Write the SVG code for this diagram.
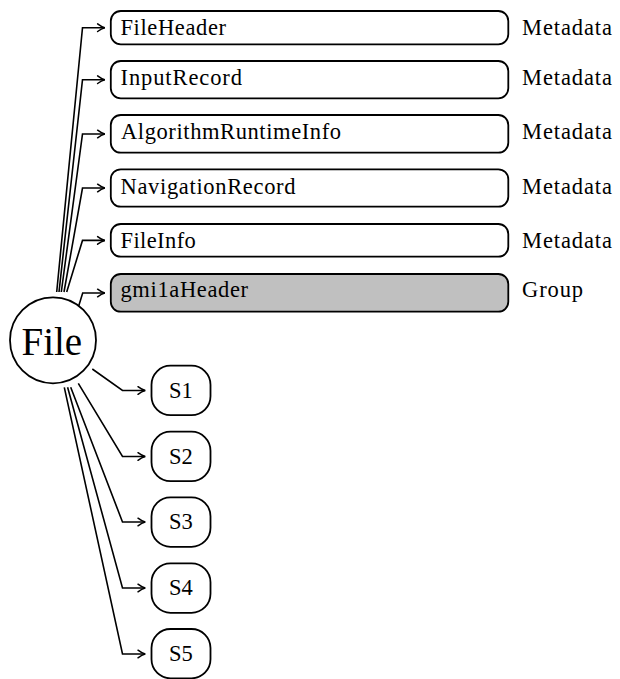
<svg xmlns="http://www.w3.org/2000/svg" width="620" height="679" viewBox="0 0 620 679">
  <defs>
    <style>
      .lbl { font-family: 'Liberation Serif', 'Times New Roman', serif; font-size: 22.5px; fill: #000; }
      .big { font-family: 'Liberation Serif', 'Times New Roman', serif; font-size: 39px; fill: #000; }
      .box { fill: #fff; stroke: #000; stroke-width: 1.8; }
      .grp { fill: #c0c0c0; stroke: #000; stroke-width: 1.8; }
      .edge { fill: none; stroke: #000; stroke-width: 1.6; marker-end: url(#tip); }
    </style>
    <marker id="tip" markerUnits="userSpaceOnUse" markerWidth="12" markerHeight="12" viewBox="-9 -6 11 12" refX="0" refY="0" orient="auto">
      <path d="M -7.2,-3.8 C -4.6,-1.8 -1.8,-0.45 0,0 C -1.8,0.45 -4.6,1.8 -7.2,3.8" fill="none" stroke="#000" stroke-width="1.5" stroke-linecap="round"/>
    </marker>
  </defs>

  <rect width="620" height="679" fill="#fff"/>

  <!-- connectors: diagonal run out of the root, then a short horizontal lead-in -->
  <g id="connectors">
    <path class="edge" d="M 56.7,292 L 82.5,27.7 L 104.8,27.7"/>
    <path class="edge" d="M 59,292 L 82.5,79.7 L 104.8,79.7"/>
    <path class="edge" d="M 61.3,292 L 82.5,134 L 104.8,134"/>
    <path class="edge" d="M 64,292 L 82.5,188 L 104.8,188"/>
    <path class="edge" d="M 66.7,292 L 82.5,240.4 L 104.8,240.4"/>
    <path class="edge" d="M 78.3,307.3 L 82.7,293 L 104.8,293"/>
    <path class="edge" d="M 92.3,369 L 122.5,390.5 L 145.2,390.5"/>
    <path class="edge" d="M 78.3,383.3 L 122.5,456.5 L 145.2,456.5"/>
    <path class="edge" d="M 70.7,387.3 L 122.5,522 L 145.2,522"/>
    <path class="edge" d="M 67.6,387.3 L 122.5,588 L 145.2,588"/>
    <path class="edge" d="M 64.3,387.3 L 122.5,654 L 145.2,654"/>
  </g>

  <!-- root -->
  <g id="file">
    <circle cx="53" cy="340.3" r="43" fill="#fff" stroke="#000" stroke-width="1.8"/>
    <text class="big" x="21.5" y="355">File</text>
  </g>

  <!-- record nodes -->
  <g id="fileheader">
    <rect class="box" x="110.8" y="11" width="397.5" height="33.3" rx="10"/>
    <text class="lbl" x="120.5" y="35" textLength="105.5">FileHeader</text>
    <text class="lbl" x="522" y="35" textLength="90">Metadata</text>
  </g>
  <g id="inputrecord">
    <rect class="box" x="110.8" y="61" width="397.5" height="37.3" rx="10"/>
    <text class="lbl" x="120.5" y="84.8" textLength="121.5">InputRecord</text>
    <text class="lbl" x="522" y="84.8" textLength="90">Metadata</text>
  </g>
  <g id="algorithmruntimeinfo">
    <rect class="box" x="110.8" y="115" width="397.5" height="37.7" rx="10"/>
    <text class="lbl" x="121" y="138.8" textLength="220">AlgorithmRuntimeInfo</text>
    <text class="lbl" x="522" y="138.8" textLength="90">Metadata</text>
  </g>
  <g id="navigationrecord">
    <rect class="box" x="110.8" y="169.3" width="397.5" height="37.4" rx="10"/>
    <text class="lbl" x="120.5" y="193.5" textLength="175">NavigationRecord</text>
    <text class="lbl" x="522" y="193.5" textLength="90">Metadata</text>
  </g>
  <g id="fileinfo">
    <rect class="box" x="110.8" y="224" width="397.5" height="32.7" rx="10"/>
    <text class="lbl" x="120.5" y="248" textLength="75.3">FileInfo</text>
    <text class="lbl" x="522" y="248" textLength="90">Metadata</text>
  </g>
  <g id="gmi1aheader">
    <rect class="grp" x="110.8" y="274" width="397.5" height="37.7" rx="10"/>
    <text class="lbl" x="120.5" y="297" textLength="127.5">gmi1aHeader</text>
    <text class="lbl" x="522" y="297" textLength="61">Group</text>
  </g>

  <!-- subset nodes -->
  <g id="s1">
    <rect class="box" x="151.5" y="365.7" width="59" height="49.5" rx="19"/>
    <text class="lbl" x="181" y="397.5" text-anchor="middle">S1</text>
  </g>
  <g id="s2">
    <rect class="box" x="151.5" y="431.7" width="59" height="49.5" rx="19"/>
    <text class="lbl" x="181" y="463.5" text-anchor="middle">S2</text>
  </g>
  <g id="s3">
    <rect class="box" x="151.5" y="497.3" width="59" height="49.5" rx="19"/>
    <text class="lbl" x="181" y="529.3" text-anchor="middle">S3</text>
  </g>
  <g id="s4">
    <rect class="box" x="151.5" y="563.3" width="59" height="49.5" rx="19"/>
    <text class="lbl" x="181" y="595.3" text-anchor="middle">S4</text>
  </g>
  <g id="s5">
    <rect class="box" x="151.5" y="629" width="59" height="49.3" rx="19"/>
    <text class="lbl" x="181" y="661.3" text-anchor="middle">S5</text>
  </g>
</svg>
